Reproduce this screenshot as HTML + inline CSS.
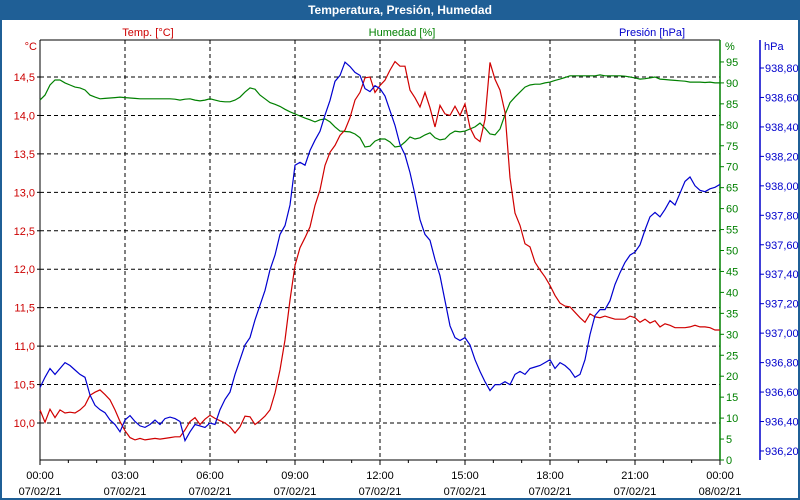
<!DOCTYPE html>
<html><head><meta charset="utf-8"><style>
body{margin:0;background:#fff;}
svg{display:block;font-family:"Liberation Sans",sans-serif;font-size:11px;}
</style></head><body>
<svg id="chart" width="800" height="500">
<rect x="0" y="0" width="800" height="500" fill="#1f5f96"/>
<rect x="2" y="20" width="796" height="478" fill="#fff"/>
<text x="400" y="14" text-anchor="middle" fill="#fff" font-weight="bold" font-size="12">Temperatura, Presión, Humedad</text>
<text x="148" y="36" text-anchor="middle" fill="#cc0000">Temp. [°C]</text>
<text x="402" y="36" text-anchor="middle" fill="#008000">Humedad [%]</text>
<text x="652" y="36" text-anchor="middle" fill="#0000cc">Presión [hPa]</text>
<text x="37" y="50" text-anchor="end" fill="#cc0000">°C</text>
<text x="725" y="50" fill="#008000">%</text>
<text x="764" y="50" fill="#0000cc">hPa</text>
<g id="grid"></g><g id="axes"></g><g id="series"></g>
</svg>
<script>
const hourLabels=["00:00","03:00","06:00","09:00","12:00","15:00","18:00","21:00","00:00"];
const dateLabels=["07/02/21","07/02/21","07/02/21","07/02/21","07/02/21","07/02/21","07/02/21","07/02/21","08/02/21"];
const tempTicks=[10,10.5,11,11.5,12,12.5,13,13.5,14,14.5];
const humTicks=[0,5,10,15,20,25,30,35,40,45,50,55,60,65,70,75,80,85,90,95];
const pressTicks=[936.2,936.4,936.6,936.8,937.0,937.2,937.4,937.6,937.8,938.0,938.2,938.4,938.6,938.8];
const temperature=[10.17,10.01,10.18,10.07,10.17,10.13,10.14,10.13,10.17,10.23,10.36,10.40,10.43,10.37,10.30,10.17,10.02,9.90,9.81,9.78,9.80,9.78,9.79,9.80,9.79,9.80,9.81,9.82,9.82,9.91,10.02,10.07,9.98,10.05,10.10,10.06,10.03,10.00,9.95,9.87,9.95,10.09,10.08,9.98,10.03,10.09,10.17,10.39,10.69,11.08,11.60,12.05,12.28,12.41,12.55,12.83,13.03,13.35,13.52,13.61,13.74,13.81,13.97,14.20,14.30,14.49,14.50,14.30,14.39,14.46,14.59,14.70,14.64,14.64,14.33,14.23,14.11,14.30,14.10,13.85,14.13,14.02,14.00,14.12,14.00,14.15,13.84,13.71,13.66,13.95,14.69,14.47,14.33,14.04,13.19,12.73,12.57,12.33,12.29,12.09,11.99,11.90,11.79,11.66,11.56,11.52,11.51,11.44,11.37,11.31,11.42,11.38,11.37,11.39,11.37,11.35,11.35,11.35,11.39,11.37,11.31,11.35,11.30,11.33,11.25,11.29,11.27,11.24,11.24,11.24,11.25,11.27,11.25,11.25,11.24,11.21,11.21];
const humidity=[85.9,87.1,89.5,90.7,90.7,90.0,89.5,89.0,88.8,88.3,87.1,86.6,86.2,86.3,86.4,86.5,86.6,86.5,86.4,86.3,86.2,86.2,86.2,86.2,86.2,86.2,86.2,86.1,85.9,86.1,86.2,85.9,85.7,85.9,86.2,85.9,85.6,85.5,85.5,85.9,86.6,87.8,88.8,88.5,87.1,86.2,85.3,84.9,84.4,83.7,83.1,82.6,82.1,81.6,81.2,80.7,81.2,81.4,80.7,79.5,78.5,78.4,78.3,77.8,76.9,74.7,74.9,76.1,76.6,76.6,75.9,74.7,74.9,75.9,77.1,76.6,76.9,77.6,78.1,76.9,76.4,76.6,77.8,78.5,78.3,78.5,79.0,79.5,80.4,79.2,77.8,77.6,79.0,82.4,85.3,86.6,87.8,89.0,89.5,89.7,89.7,90.0,90.2,90.6,90.9,91.3,91.7,91.7,91.7,91.7,91.7,91.7,91.9,91.7,91.7,91.7,91.7,91.6,91.4,91.2,90.9,91.0,91.2,91.4,90.9,90.8,90.7,90.6,90.5,90.4,90.2,90.2,90.2,90.1,90.2,90.0,90.0];
const pressure=[936.63,936.70,936.76,936.72,936.76,936.80,936.78,936.75,936.72,936.70,936.58,936.51,936.48,936.46,936.41,936.38,936.33,936.41,936.44,936.40,936.37,936.36,936.38,936.41,936.38,936.42,936.43,936.42,936.40,936.27,936.33,936.38,936.37,936.36,936.39,936.38,936.48,936.55,936.60,936.72,936.82,936.92,936.97,937.09,937.19,937.29,937.43,937.53,937.67,937.73,937.87,938.14,938.16,938.14,938.24,938.31,938.37,938.48,938.58,938.71,938.75,938.84,938.81,938.77,938.75,938.66,938.64,938.68,938.66,938.61,938.51,938.41,938.28,938.21,938.09,937.94,937.77,937.67,937.63,937.50,937.39,937.22,937.05,936.97,936.95,936.97,936.92,936.82,936.74,936.67,936.61,936.65,936.65,936.67,936.65,936.72,936.74,936.72,936.76,936.77,936.78,936.80,936.82,936.76,936.80,936.78,936.75,936.70,936.72,936.82,936.99,937.12,937.16,937.16,937.22,937.33,937.41,937.48,937.53,937.55,937.60,937.70,937.79,937.82,937.79,937.84,937.90,937.87,937.95,938.03,938.06,938.00,937.97,937.96,937.98,937.99,938.01];

const NS="http://www.w3.org/2000/svg";
const X0=40,X1=720,Y0=40,Y1=460;
const xH=h=>X0+h*(X1-X0)/24;
const yT=v=>423-(v-10)*76.89;
const yHm=v=>460-v*4.19;
const yP=v=>68+(938.8-v)*147.3;
function mk(tag,attrs,parent,text){const e=document.createElementNS(NS,tag);for(const k in attrs)e.setAttribute(k,attrs[k]);if(text!==undefined)e.textContent=text;parent.appendChild(e);return e;}
const grid=document.getElementById('grid'),axes=document.getElementById('axes'),series=document.getElementById('series');
// horizontal grid
tempTicks.forEach(v=>{const l=mk('line',{x1:X0,x2:X1,y1:yT(v),y2:yT(v),stroke:'#000','stroke-dasharray':'4,3'},grid);


const t=mk('text',{x:35,y:yT(v)+4,'text-anchor':'end',fill:'#cc0000'},axes,v.toFixed(1).replace('.',','));


mk('line',{x1:X0-3,x2:X0,y1:yT(v),y2:yT(v),stroke:'#000'},axes);});
// vertical grid + x labels
hourLabels.forEach((lab,i)=>{const x=xH(i*3);
if(i>0&&i<8){const l=mk('line',{x1:x,x2:x,y1:Y0,y2:Y1,stroke:'#000','stroke-dasharray':'4,3'},grid);

}
const t=mk('text',{x:x,y:479,'text-anchor':'middle',fill:'#000'},axes,lab);


const d=mk('text',{x:x,y:495,'text-anchor':'middle',fill:'#000'},axes,dateLabels[i]);

});
for(let h=0;h<=24;h++){mk('line',{x1:xH(h),x2:xH(h),y1:Y1,y2:Y1+(h%3?3:5),stroke:'#000'},axes);}
// axis lines
let a=mk('line',{x1:X0,x2:X1,y1:Y0,y2:Y0,stroke:'#000'},axes);


a=mk('line',{x1:X0,x2:X1,y1:Y1,y2:Y1,stroke:'#000'},axes);


a=mk('line',{x1:X0,x2:X0,y1:Y0,y2:Y1,stroke:'#000'},axes);


a=mk('line',{x1:X1,x2:X1,y1:Y0,y2:Y1,stroke:'#008000','stroke-width':1.5},axes);


a=mk('line',{x1:760,x2:760,y1:Y0,y2:Y1,stroke:'#0000cc','stroke-width':1.5},axes);


humTicks.forEach(v=>{mk('line',{x1:X1,x2:X1+4,y1:yHm(v),y2:yHm(v),stroke:'#008000'},axes);
const t=mk('text',{x:726,y:yHm(v)+4,fill:'#008000'},axes,String(v));

});
pressTicks.forEach(v=>{mk('line',{x1:760,x2:764,y1:yP(v),y2:yP(v),stroke:'#0000cc'},axes);
const t=mk('text',{x:765,y:yP(v)+4,fill:'#0000cc'},axes,v.toFixed(2).replace('.',','));

});
// series
function line(vals,yf,color,name){const n=vals.length;const pts=vals.map((v,i)=>xH(i*24/(n-1)).toFixed(1)+','+yf(v).toFixed(1)).join(' ');
const p=mk('polyline',{points:pts,fill:'none',stroke:color,'stroke-width':1.2},series);

}
line(humidity,yHm,'#008000','humidity-line');
line(temperature,yT,'#d00000','temperature-line');
line(pressure,yP,'#0000d0','pressure-line');
</script>
</body></html>
